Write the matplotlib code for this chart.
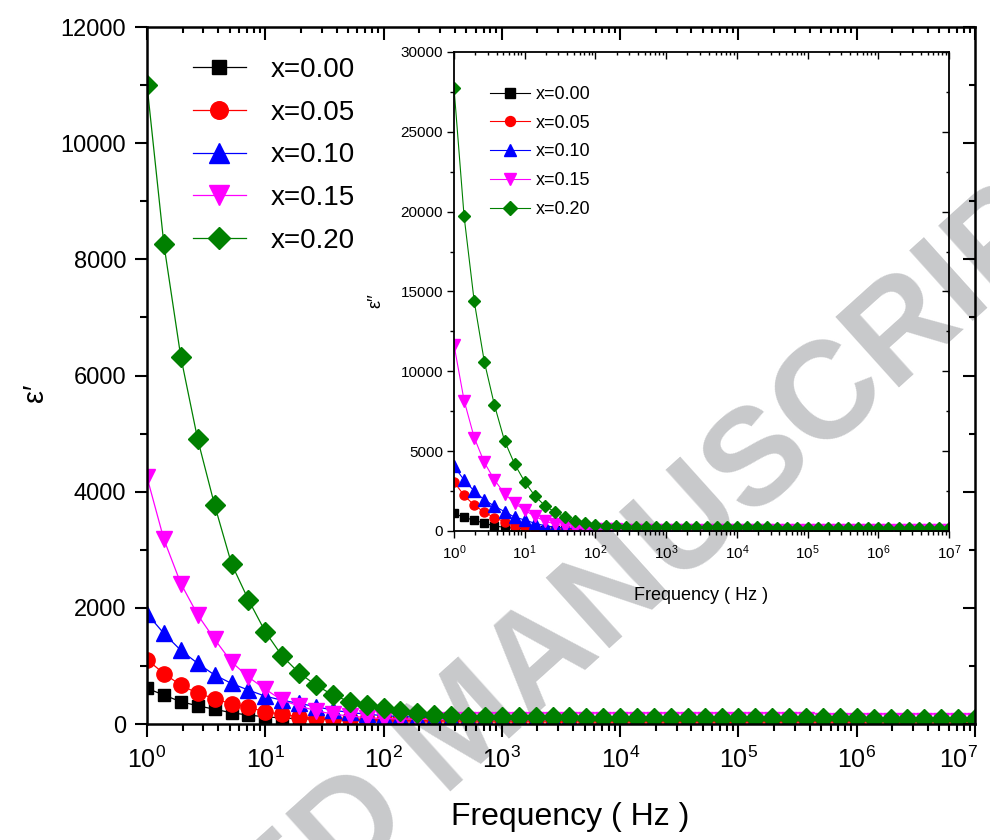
import matplotlib.pyplot as plt
from matplotlib.ticker import MultipleLocator, LogLocator, NullFormatter
from matplotlib.transforms import ScaledTranslation

plt.rcParams['font.family'] = ['Liberation Sans', 'DejaVu Sans']
plt.rcParams['mathtext.fontset'] = 'custom'
plt.rcParams['mathtext.rm'] = 'Liberation Sans'
plt.rcParams['mathtext.it'] = 'Liberation Sans:italic'
plt.rcParams['mathtext.default'] = 'regular'

# measurement frequencies (Hz), 7 points per decade
freq = [1.0, 1.389, 1.931, 2.683, 3.728, 5.179, 7.197,
        10.0, 13.89, 19.31, 26.83, 37.28, 51.79, 71.97,
        100.0, 138.9, 193.1, 268.3, 372.8, 517.9, 719.7,
        1000.0, 1389.0, 1931.0, 2683.0, 3728.0, 5179.0, 7197.0,
        1.0e4, 1.389e4, 1.931e4, 2.683e4, 3.728e4, 5.179e4, 7.197e4,
        1.0e5, 1.389e5, 1.931e5, 2.683e5, 3.728e5, 5.179e5, 7.197e5,
        1.0e6, 1.389e6, 1.931e6, 2.683e6, 3.728e6, 5.179e6, 7.197e6,
        1.0e7]

labels = ['x=0.00', 'x=0.05', 'x=0.10', 'x=0.15', 'x=0.20']
colors = ['black', '#ff0000', '#0000ff', '#ff00ff', '#008000']
markers = ['s', 'o', '^', 'v', 'D']

# real part (main plot)
eps1_000 = [615, 500, 385, 315, 255, 195, 155, 125, 105, 92,
            84, 78, 74, 70, 68, 66, 64, 62, 61, 60,
            59, 59, 58, 58, 57, 57, 56, 56, 55, 55,
            54, 54, 53, 53, 52, 52, 51, 51, 50, 50,
            49, 49, 48, 48, 47, 47, 46, 46, 45, 45]
eps1_005 = [1110, 870, 670, 530, 440, 345, 290, 210, 170, 125,
            100, 90, 82, 76, 72, 70, 68, 67, 66, 65,
            64, 64, 63, 63, 62, 62, 61, 61, 60, 60,
            59, 59, 58, 58, 57, 57, 56, 56, 55, 55,
            54, 54, 53, 53, 52, 52, 51, 51, 50, 50]
eps1_010 = [1900, 1560, 1270, 1045, 845, 700, 585, 480, 410, 355,
            300, 240, 200, 170, 145, 130, 120, 112, 106, 100,
            97, 95, 93, 92, 91, 90, 89, 88, 87, 86,
            85, 84, 84, 83, 83, 82, 82, 81, 81, 80,
            80, 79, 79, 78, 78, 77, 77, 76, 76, 75]
eps1_015 = [4250, 3180, 2420, 1880, 1460, 1070, 810, 600, 410, 310,
            230, 170, 140, 110, 95, 88, 82, 78, 75, 73,
            72, 71, 70, 70, 69, 69, 68, 68, 67, 67,
            66, 66, 65, 65, 64, 64, 63, 63, 62, 62,
            61, 61, 60, 60, 60, 59, 59, 58, 58, 58]
eps1_020 = [11000, 8260, 6320, 4900, 3770, 2760, 2140, 1590, 1170, 880,
            670, 500, 385, 325, 270, 230, 185, 155, 140, 126,
            122, 120, 118, 116, 115, 114, 113, 112, 111, 110,
            109, 108, 107, 106, 105, 104, 103, 102, 101, 100,
            99, 98, 97, 96, 95, 94, 93, 92, 91, 90]

# imaginary part (inset)
eps2_000 = [1100, 850, 670, 490, 310, 230, 170, 120, 90, 70,
            60, 55, 52, 50, 48, 46, 45, 44, 43, 42,
            41, 41, 40, 40, 39, 39, 38, 38, 37, 37,
            36, 36, 35, 35, 34, 34, 33, 33, 32, 32,
            31, 31, 30, 30, 29, 29, 28, 28, 27, 27]
eps2_005 = [3060, 2230, 1610, 1180, 830, 580, 330, 230, 120, 80,
            60, 55, 52, 50, 49, 48, 47, 46, 45, 45,
            44, 44, 43, 43, 42, 42, 41, 41, 40, 40,
            39, 39, 38, 38, 37, 37, 36, 36, 35, 35,
            34, 34, 33, 33, 32, 32, 31, 31, 30, 30]
eps2_010 = [4050, 3190, 2500, 1950, 1560, 1210, 870, 690, 480, 330,
            240, 180, 140, 120, 110, 105, 100, 98, 96, 95,
            94, 93, 92, 91, 90, 89, 88, 87, 86, 85,
            84, 83, 82, 81, 80, 79, 78, 77, 76, 75,
            74, 73, 72, 71, 70, 70, 70, 70, 70, 70]
eps2_015 = [11650, 8170, 5850, 4290, 3200, 2340, 1740, 1290, 920, 610,
            440, 300, 200, 140, 110, 100, 95, 90, 88, 86,
            85, 84, 83, 82, 81, 80, 79, 78, 77, 76,
            75, 74, 73, 72, 71, 70, 69, 68, 67, 66,
            65, 64, 63, 62, 61, 60, 60, 60, 60, 60]
eps2_020 = [27750, 19700, 14380, 10600, 7890, 5650, 4190, 3080, 2200, 1580,
            1180, 860, 650, 480, 370, 310, 280, 260, 250, 245,
            240, 238, 236, 234, 232, 230, 228, 226, 224, 222,
            220, 218, 216, 214, 212, 210, 208, 206, 204, 202,
            200, 198, 196, 194, 192, 190, 188, 186, 184, 182]

main_series = [eps1_000, eps1_005, eps1_010, eps1_015, eps1_020]
inset_series = [eps2_000, eps2_005, eps2_010, eps2_015, eps2_020]
main_ms = [9, 11, 12, 12, 10]
inset_ms = [6, 6.5, 8, 8, 6.2]


def make_frame(fig, rect, ymax, ystep, tick_len, tick_w, spine_w, label_size, pads):
    """Axes with outward ticks bottom/left and inward ticks top/right (Origin style)"""
    ax = fig.add_axes(rect, facecolor='none')
    over = fig.add_axes(rect, facecolor='none')
    for a in (ax, over):
        a.set_xscale('log')
        a.set_xlim(1, 1e7)
        a.set_ylim(0, ymax)
        a.xaxis.set_major_locator(LogLocator(base=10, numticks=10))
        a.xaxis.set_minor_locator(LogLocator(base=10, subs=range(2, 10), numticks=100))
        a.xaxis.set_minor_formatter(NullFormatter())
        a.yaxis.set_major_locator(MultipleLocator(ystep))
        a.yaxis.set_minor_locator(MultipleLocator(ystep / 2))

    ax.tick_params(which='major', direction='out', length=tick_len[0], width=tick_w,
                   labelsize=label_size[1], top=False, right=False)
    ax.tick_params(which='minor', direction='out', length=tick_len[1], width=tick_w,
                   top=False, right=False)
    ax.tick_params(axis='x', labelsize=label_size[0], pad=pads[0])
    ax.tick_params(axis='y', pad=pads[1])
    for s in ax.spines.values():
        s.set_linewidth(spine_w)

    over.xaxis.tick_top()
    over.yaxis.tick_right()
    over.tick_params(which='major', direction='in', length=tick_len[0], width=tick_w)
    over.tick_params(which='minor', direction='in', length=tick_len[1] * 0.8, width=tick_w)
    over.tick_params(labeltop=False, labelright=False, labelbottom=False, labelleft=False)
    for s in over.spines.values():
        s.set_visible(False)
    return ax


fig = plt.figure(figsize=(9.9, 8.4), dpi=100)

# watermark behind everything
fig.text(0.47, 0.131, 'ACCEPTED MANUSCRIPT', rotation=42, rotation_mode='anchor',
         ha='center', va='center', fontsize=99, fontweight='bold',
         color='#c8c9cb', zorder=-1)

# main plot: real permittivity
ax = make_frame(fig, [0.1485, 0.138, 0.8364, 0.8298], 12000, 2000,
                (9, 5), 1.5, 1.8, (18, 17), (7, 6))
for y, lab, c, m, ms in zip(main_series, labels, colors, markers, main_ms):
    ax.plot(freq, y, color=c, marker=m, markersize=ms, linewidth=0.9, label=lab)
ax.set_xlabel('Frequency ( Hz )', fontsize=23)
ax.xaxis.set_label_coords(0.511, -0.112)
ax.set_ylabel('ε′', fontsize=21)
ax.yaxis.set_label_coords(-0.118, 0.475)
ax.legend(loc='upper left', bbox_to_anchor=(0.0556, 0.957), frameon=False,
          fontsize=20, handlelength=1.9, handletextpad=0.9, labelspacing=0.6,
          borderpad=0, borderaxespad=0, markerscale=1.15)

# inset: imaginary permittivity
ins = make_frame(fig, [0.4586, 0.3679, 0.5, 0.5702], 30000, 5000,
                 (5, 3), 1.0, 1.3, (11, 11), (4, 3))
for y, lab, c, m, ms in zip(inset_series, labels, colors, markers, inset_ms):
    ins.plot(freq, y, color=c, marker=m, markersize=ms, linewidth=0.8, label=lab)
ins.set_xlabel('Frequency ( Hz )', fontsize=13)
ins.xaxis.set_label_coords(0.5, -0.118)
ins.set_ylabel('ε′′', fontsize=13)
ins.yaxis.set_label_coords(-0.14, 0.48)
ins.legend(loc='upper left', bbox_to_anchor=(0.0727, 0.929), frameon=False,
           fontsize=13, handlelength=2.2, handletextpad=0.35, labelspacing=0.65,
           borderpad=0, borderaxespad=0, markerscale=1.1)

# pull the last main x tick label (10^7) in so it stays on the canvas
fig.canvas.draw()
last = ax.xaxis.get_major_ticks()[-1].label1
for t in ax.xaxis.get_major_ticks():
    if t.get_loc() == 1e7:
        last = t.label1
last.set_transform(last.get_transform() + ScaledTranslation(-12 / 72, 0, fig.dpi_scale_trans))

fig.savefig('out.png', dpi=100)
